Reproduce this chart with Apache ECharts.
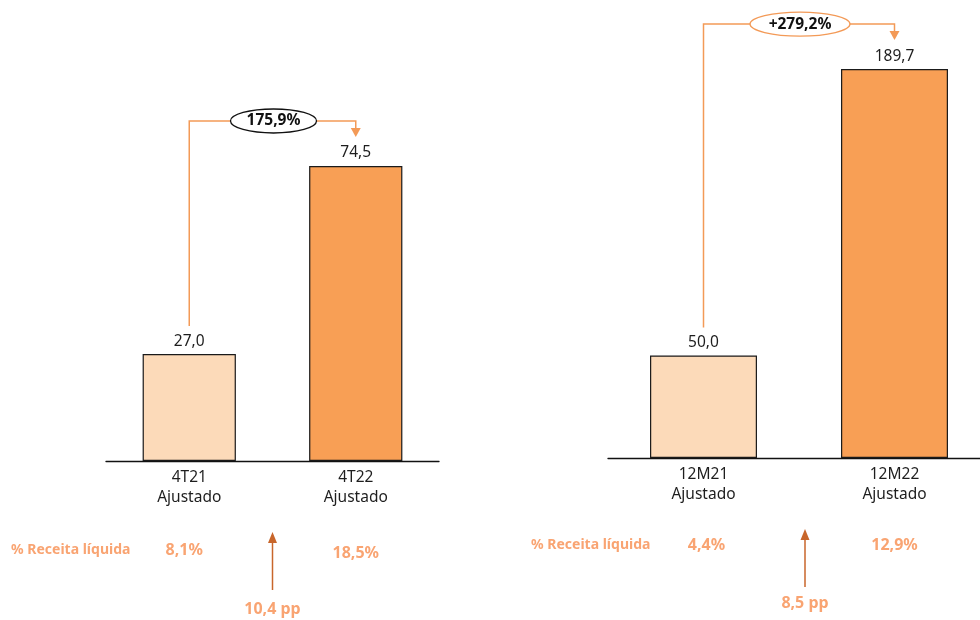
<!DOCTYPE html>
<html><head><meta charset="utf-8">
<script src="https://cdn.jsdelivr.net/npm/echarts@6/dist/echarts.min.js"></script>
<style>html,body{margin:0;padding:0;background:#fff}#c{width:980px;height:620px}</style>
</head><body><div id="c"></div>
<script>
const catsQ = ['4T21\nAjustado', '4T22\nAjustado'];
const valsQ = [27.0, 74.5];
const catsY = ['12M21\nAjustado', '12M22\nAjustado'];
const valsY = [50.0, 189.7];
const growthQ = '175,9%';
const growthY = '+279,2%';
const marginQ = ['8,1%', '18,5%'];
const marginY = ['4,4%', '12,9%'];
const ppQ = '10,4 pp';
const ppY = '8,5 pp';
const marginLabel = '% Receita líquida';

const FONT = 'Noto Sans';
const LIGHT = '#FCDAB9', DARK = '#F89F55', LINE = '#F39A57', TXT = '#F9A472', ARROW = '#C8662B';
const fmt = v => v.toFixed(1).replace('.', ',');

const chart = echarts.init(document.getElementById('c'), null, {renderer: 'canvas'});
function barSeries(idx, vals) {
  return {
    type: 'bar', xAxisIndex: idx, yAxisIndex: idx, barWidth: '56%',
    data: vals.map((v, i) => ({value: v, itemStyle: {color: i === 0 ? LIGHT : DARK}})),
    itemStyle: {borderColor: '#1a1a1a', borderWidth: 1.2},
    label: {show: true, position: 'top', distance: 5, color: '#1e1e1e', fontSize: 15.5, fontFamily: FONT,
      formatter: p => fmt(p.value)},
    animation: false
  };
}
function xAx(idx, cats) {
  return {type: 'category', gridIndex: idx, data: cats,
    axisLine: {lineStyle: {color: '#111', width: 1.3}}, axisTick: {show: false},
    axisLabel: {color: '#1e1e1e', fontSize: 15.5, fontFamily: FONT, lineHeight: 20, margin: 7, interval: 0}};
}
function yAx(idx, max) {
  return {type: 'value', gridIndex: idx, min: 0, max: max, show: false, splitLine: {show: false}};
}
chart.setOption({
  animation: false,
  grid: [
    {left: 106, width: 333, top: 65, height: 396, containLabel: false, outerBoundsMode: 'none'},
    {left: 608, width: 382, top: 48, height: 410, containLabel: false, outerBoundsMode: 'none'}
  ],
  xAxis: [xAx(0, catsQ), xAx(1, catsY)],
  yAxis: [yAx(0, 100), yAx(1, 200)],
  series: [barSeries(0, valsQ), barSeries(1, valsY)]
});

function panel(idx, cats, vals, growth, ellipseStroke, margins, pp, ppShift) {
  const p0 = chart.convertToPixel({xAxisIndex: idx, yAxisIndex: idx}, [cats[0], vals[0]]);
  const p1 = chart.convertToPixel({xAxisIndex: idx, yAxisIndex: idx}, [cats[1], vals[1]]);
  const base = chart.convertToPixel({xAxisIndex: idx, yAxisIndex: idx}, [cats[0], 0])[1];
  const topY = Math.min(p0[1], p1[1]) - 45;
  const startY = p0[1] - 28;
  const endY = p1[1] - 29;
  const midX = (p0[0] + p1[0]) / 2 + 1;
  const rx = idx === 0 ? 43 : 50;
  const els = [];
  els.push({type: 'polyline', shape: {points: [[p0[0], startY], [p0[0], topY], [p1[0], topY], [p1[0], endY - 7]]},
    style: {stroke: LINE, lineWidth: 1.5, fill: null}, z: 10});
  els.push({type: 'polygon', shape: {points: [[p1[0] - 5, endY - 9], [p1[0] + 5, endY - 9], [p1[0], endY]]},
    style: {fill: LINE}, z: 10});
  els.push({type: 'ellipse', shape: {cx: midX, cy: topY, rx: rx, ry: 12},
    style: {fill: '#fff', stroke: ellipseStroke, lineWidth: 1.3}, z: 11});
  els.push({type: 'text', x: midX, y: topY, style: {text: growth, fill: '#111', font: 'bold 15.5px ' + FONT,
    align: 'center', verticalAlign: 'middle'}, z: 12});
  const my = base + 89 - (idx === 0 ? 0 : 2);
  const labelX = idx === 0 ? 11 : 531;
  els.push({type: 'text', x: labelX, y: my, style: {text: marginLabel, fill: TXT, font: 'bold 14px ' + FONT,
    align: 'left', verticalAlign: 'middle'}});
  els.push({type: 'text', x: p0[0] - 5 + (idx === 1 ? 8 : 0), y: my, style: {text: margins[0], fill: TXT,
    font: 'bold 16px ' + FONT, align: 'center', verticalAlign: 'middle'}});
  const m2y = my + (idx === 0 ? 3 : 0);
  els.push({type: 'text', x: p1[0], y: m2y, style: {text: margins[1], fill: TXT,
    font: 'bold 16px ' + FONT, align: 'center', verticalAlign: 'middle'}});
  const ax = midX + ppShift;
  els.push({type: 'line', shape: {x1: ax, y1: base + 129, x2: ax, y2: base + 80},
    style: {stroke: ARROW, lineWidth: 1.5}});
  els.push({type: 'polygon', shape: {points: [[ax - 4.5, base + 82], [ax + 4.5, base + 82], [ax, base + 71]]},
    style: {fill: ARROW}});
  els.push({type: 'text', x: ax, y: base + 148 - (idx === 0 ? 0 : 3), style: {text: pp, fill: TXT,
    font: 'bold 16px ' + FONT, align: 'center', verticalAlign: 'middle'}});
  return els;
}
chart.setOption({graphic: {elements: [
  ...panel(0, catsQ, valsQ, growthQ, '#111', marginQ, ppQ, -1),
  ...panel(1, catsY, valsY, growthY, LINE, marginY, ppY, 5)
]}});
</script></body></html>
